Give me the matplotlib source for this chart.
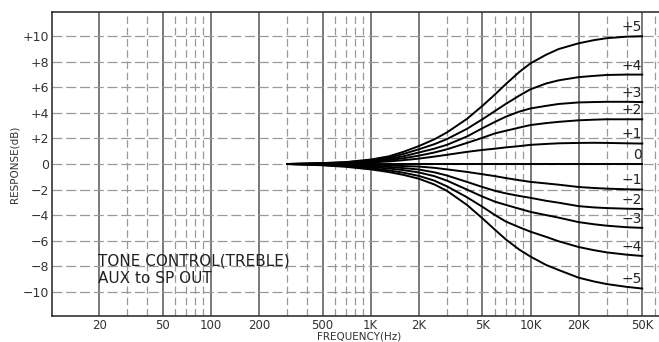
import numpy as np
import matplotlib.pyplot as plt

# frequencies where the curves were read (Hz)
freqs = [300, 400, 500, 700, 1000, 1300, 1600, 2000, 2500, 3000, 4000, 5000, 6000,
         7000, 8500, 10000, 12500, 15000, 20000, 25000, 30000, 40000, 50000]

# response (dB) per treble setting
curve_p5 = [0, 0.03, 0.07, 0.15, 0.35, 0.6, 0.95, 1.4, 1.93, 2.47, 3.53, 4.55, 5.45,
            6.25, 7.2, 7.88, 8.55, 9.0, 9.45, 9.7, 9.85, 9.97, 10.0]
curve_p4 = [0, 0.03, 0.06, 0.13, 0.3, 0.5, 0.78, 1.15, 1.55, 1.95, 2.75, 3.5, 4.15,
            4.7, 5.35, 5.85, 6.3, 6.55, 6.8, 6.9, 6.97, 7.0, 7.0]
curve_p3 = [0, 0.02, 0.05, 0.1, 0.25, 0.4, 0.6, 0.9, 1.2, 1.5, 2.15, 2.8, 3.3,
            3.7, 4.1, 4.35, 4.55, 4.7, 4.82, 4.85, 4.87, 4.87, 4.85]
curve_p2 = [0, 0.02, 0.04, 0.08, 0.18, 0.3, 0.45, 0.65, 0.9, 1.15, 1.65, 2.05, 2.4,
            2.6, 2.85, 3.05, 3.2, 3.3, 3.42, 3.47, 3.5, 3.5, 3.5]
curve_p1 = [0, 0.01, 0.02, 0.05, 0.12, 0.2, 0.3, 0.42, 0.58, 0.72, 0.95, 1.1, 1.2,
            1.3, 1.4, 1.5, 1.57, 1.62, 1.65, 1.66, 1.65, 1.62, 1.6]
curve_0 = [0.0] * len(freqs)
curve_m1 = [0, -0.01, -0.02, -0.04, -0.08, -0.12, -0.16, -0.2, -0.3, -0.42, -0.62, -0.8, -0.95,
            -1.1, -1.27, -1.4, -1.52, -1.62, -1.8, -1.88, -1.93, -1.98, -2.0]
curve_m2 = [0, -0.02, -0.04, -0.08, -0.15, -0.23, -0.32, -0.43, -0.65, -0.9, -1.4, -1.8, -2.1,
            -2.3, -2.5, -2.65, -2.88, -3.03, -3.3, -3.4, -3.45, -3.5, -3.52]
curve_m3 = [0, -0.03, -0.06, -0.12, -0.23, -0.35, -0.48, -0.66, -0.95, -1.3, -2.0, -2.55, -2.95,
            -3.2, -3.5, -3.75, -4.0, -4.2, -4.55, -4.72, -4.83, -4.95, -5.0]
curve_m4 = [0, -0.04, -0.08, -0.17, -0.33, -0.5, -0.68, -0.93, -1.3, -1.75, -2.6, -3.35, -4.0,
            -4.5, -4.95, -5.3, -5.7, -6.05, -6.5, -6.75, -6.92, -7.1, -7.2]
curve_m5 = [0, -0.05, -0.1, -0.22, -0.42, -0.63, -0.85, -1.15, -1.6, -2.1, -3.2, -4.25, -5.15,
            -5.9, -6.7, -7.25, -7.9, -8.3, -8.9, -9.2, -9.4, -9.62, -9.75]

curves = [curve_p5, curve_p4, curve_p3, curve_p2, curve_p1, curve_0,
          curve_m1, curve_m2, curve_m3, curve_m4, curve_m5]
curve_labels = ['+5', '+4', '+3', '+2', '+1', '0', '\u22121', '\u22122', '\u22123', '\u22124', '\u22125']

xtick_vals = [20, 50, 100, 200, 500, 1000, 2000, 5000, 10000, 20000, 50000]
xtick_labels = ['20', '50', '100', '200', '500', '1K', '2K', '5K', '10K', '20K', '50K']
minor_vals = [30, 40, 60, 70, 80, 90, 300, 400, 600, 700, 800, 900,
              3000, 4000, 6000, 7000, 8000, 9000, 30000, 40000, 60000]
ytick_vals = [10, 8, 6, 4, 2, 0, -2, -4, -6, -8, -10]
ytick_labels = ['+10', '+8', '+6', '+4', '+2', '0', '\u22122', '\u22124', '\u22126', '\u22128', '\u221210']

fig = plt.figure(figsize=(6.59, 3.42), dpi=100)
ax = fig.add_axes([52 / 659, 26 / 342, 1 - 52 / 659 + 0.01, 304 / 342])

ax.set_xscale('log')
ax.set_xlim(10.15, 70000)
ax.set_ylim(-11.9, 11.9)

# grid: solid at 1-2-5 steps, dashed in between
for v in xtick_vals:
    ax.axvline(v, color='#555555', lw=1.1, zorder=1)
for v in minor_vals:
    ax.axvline(v, color='#999999', lw=0.9, ls=(0, (6, 3)), zorder=1)
for v in ytick_vals:
    ax.axhline(v, color='#999999', lw=0.9, ls=(0, (8, 3)), zorder=1)

for y, lab in zip(curves, curve_labels):
    ax.plot(freqs, y, color='black', lw=1.4, zorder=3, solid_joinstyle='round')
    ax.annotate(lab, xy=(freqs[-1], y[-1]), xytext=(0, 1.5), textcoords='offset points',
                ha='right', va='bottom', fontsize=10, color='#222222', zorder=4)

ax.set_xticks(xtick_vals)
ax.set_xticklabels(xtick_labels, fontsize=8.5, color='#333333')
ax.xaxis.set_minor_locator(plt.NullLocator())
ax.set_yticks(ytick_vals)
ax.set_yticklabels(ytick_labels, fontsize=9, color='#333333')
ax.tick_params(length=0, pad=2)

for side in ['left', 'bottom', 'top']:
    ax.spines[side].set_color('#333333')
    ax.spines[side].set_linewidth(1.2)
ax.spines['right'].set_visible(False)

ax.set_xlabel('FREQUENCY(Hz)', fontsize=7.5, color='#333333', labelpad=0)
ax.set_ylabel('RESPONSE(dB)', fontsize=7.5, color='#333333', labelpad=2)

ax.text(19.8, -9.3, 'TONE CONTROL(TREBLE)\nAUX to SP OUT', fontsize=11,
        color='#222222', ha='left', va='baseline', linespacing=1.15)

fig.savefig('out.png', dpi=100)
